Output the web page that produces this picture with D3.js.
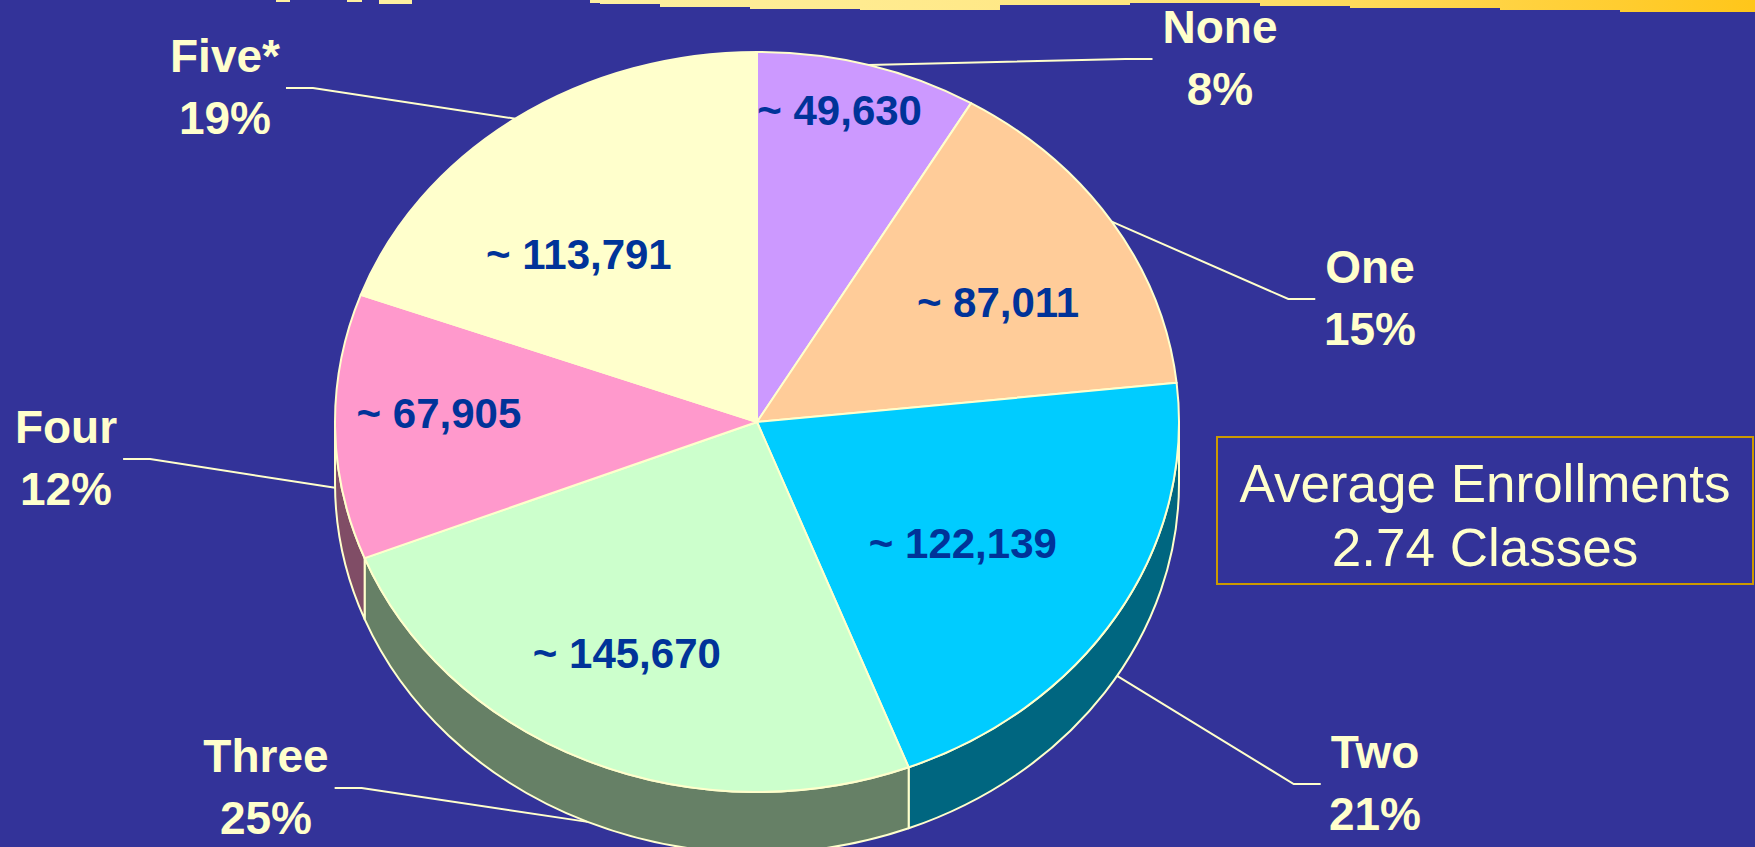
<!DOCTYPE html>
<html>
<head>
<meta charset="utf-8">
<script src="https://cdn.jsdelivr.net/npm/d3@7/dist/d3.min.js"></script>
<style>
html, body { margin: 0; padding: 0; background: #333399; overflow: hidden; }
svg { display: block; font-family: "Liberation Sans", Arial, sans-serif; }
</style>
</head>
<body>
<svg id="chart" width="1755" height="847"></svg>
<script>
// chart values
const categories = ["None", "One", "Two", "Three", "Four", "Five*"];
const enrollments = [49630, 87011, 122139, 145670, 67905, 113791];
const percentLabels = ["8%", "15%", "21%", "25%", "12%", "19%"];
const valueLabels = ["~ 49,630", "~ 87,011", "~ 122,139", "~ 145,670", "~ 67,905", "~ 113,791"];
const faceColors = ["#CC99FF", "#FFCC99", "#00CCFF", "#CCFFCC", "#FF99CC", "#FFFFCC"];
const summaryLines = ["Average Enrollments", "2.74 Classes"];

// layout
const W = 1755, H = 847;
const cx = 757, cy = 422, rx = 422, ry = 370, depth = 61;
const outline = "#FFFFCC";
// value label: [angle in degrees, fraction of radius]
const valueLabelPos = [[13.1, 0.864], [60.4, 0.657], [123.8, 0.587], [206.3, 0.696], [271.7, 0.754], [317.1, 0.62]];
// callout text: [centre x, first baseline]
const calloutPos = [[1220, 43], [1370, 283], [1375, 768], [266, 772], [66, 443], [225, 72]];

const svg = d3.select("#chart");
svg.append("rect").attr("width", W).attr("height", H).attr("fill", "#333399");

// ragged yellow strip at the top of the slide
const defs = svg.append("defs");
const grad = defs.append("linearGradient").attr("id", "topStrip")
    .attr("x1", 0).attr("x2", 1).attr("y1", 0).attr("y2", 0);
grad.append("stop").attr("offset", "0%").attr("stop-color", "#FFF0A0");
grad.append("stop").attr("offset", "45%").attr("stop-color", "#FFE680");
grad.append("stop").attr("offset", "100%").attr("stop-color", "#FFC61A");
const stripEdge = [[600, 0], [600, 4], [660, 4], [660, 7], [750, 7], [750, 9], [860, 9], [860, 10], [1000, 10],
    [1000, 5], [1130, 5], [1130, 3], [1260, 3], [1260, 6], [1350, 6], [1350, 8], [1500, 8], [1500, 10],
    [1620, 10], [1620, 12], [1755, 12], [1755, 0]];
svg.append("path").attr("d", d3.line()(stripEdge) + "Z").attr("fill", "url(#topStrip)");
[[276, 290, 2], [347, 362, 2], [379, 412, 4], [590, 600, 3]].forEach(b => {
    svg.append("rect").attr("x", b[0]).attr("y", 0).attr("width", b[1] - b[0]).attr("height", b[2])
        .attr("fill", "#FFF0A0");
});

const pie = d3.pie().sort(null).value(d => d);
const arcs = pie(enrollments);

const pt = (a, r = 1, dz = 0) => [cx + rx * r * Math.sin(a), cy - ry * r * Math.cos(a) + dz];
const half = c => { const k = d3.rgb(c); return d3.rgb(k.r / 2, k.g / 2, k.b / 2).formatHex(); };

// side walls for the front half of the disc
const sides = svg.append("g");
arcs.forEach((d, i) => {
    const a0 = Math.max(d.startAngle, Math.PI / 2);
    const a1 = Math.min(d.endAngle, Math.PI * 1.5);
    if (a0 >= a1) return;
    const p0 = pt(a0), p1 = pt(a1), q1 = pt(a1, 1, depth), q0 = pt(a0, 1, depth);
    const dPath = `M${p0}A${rx},${ry} 0 0 1 ${p1}L${q1}A${rx},${ry} 0 0 0 ${q0}Z`;
    sides.append("path").attr("d", dPath)
        .attr("fill", half(faceColors[i]))
        .attr("stroke", outline).attr("stroke-width", 2).attr("stroke-linejoin", "round");
});

// top faces, elliptical by scaling a circular arc
const arcGen = d3.arc().innerRadius(0).outerRadius(rx);
svg.append("g")
    .attr("transform", `translate(${cx},${cy}) scale(1,${ry / rx})`)
    .selectAll("path")
    .data(arcs)
    .join("path")
    .attr("d", arcGen)
    .attr("fill", (d, i) => faceColors[i])
    .attr("stroke", outline)
    .attr("stroke-width", 2)
    .attr("stroke-linejoin", "round")
    .attr("vector-effect", "non-scaling-stroke");

// value labels inside slices
svg.append("g").selectAll("text")
    .data(arcs)
    .join("text")
    .attr("x", (d, i) => pt(valueLabelPos[i][0] * Math.PI / 180, valueLabelPos[i][1])[0])
    .attr("y", (d, i) => pt(valueLabelPos[i][0] * Math.PI / 180, valueLabelPos[i][1])[1])
    .attr("dy", "0.35em")
    .attr("text-anchor", "middle")
    .attr("font-size", 42)
    .attr("font-weight", "bold")
    .attr("fill", "#003399")
    .text((d, i) => valueLabels[i]);

// callouts with leader lines
const callouts = svg.append("g");
arcs.forEach((d, i) => {
    const [lx, ly] = calloutPos[i];
    const t1 = callouts.append("text").attr("x", lx).attr("y", ly)
        .attr("text-anchor", "middle").attr("font-size", 46).attr("font-weight", "bold")
        .attr("fill", outline).text(categories[i]);
    callouts.append("text").attr("x", lx).attr("y", ly + 62)
        .attr("text-anchor", "middle").attr("font-size", 46).attr("font-weight", "bold")
        .attr("fill", outline).text(percentLabels[i]);
    const hw = t1.node().getComputedTextLength() / 2;
    const left = lx < cx;
    const sx = left ? lx + hw + 6 : lx - hw - 10;
    const sy = ly + 16;
    const ex = left ? sx + 27 : sx - 27;
    const mid = (d.startAngle + d.endAngle) / 2;
    const anchor = pt(mid, 1, Math.cos(mid) < 0 ? depth : 0);
    callouts.append("path")
        .attr("d", d3.line()([[sx, sy], [ex, sy], anchor]))
        .attr("fill", "none").attr("stroke", outline).attr("stroke-width", 2);
});

// summary box
const box = svg.append("g");
box.append("rect").attr("x", 1217).attr("y", 437).attr("width", 536).attr("height", 147)
    .attr("fill", "none").attr("stroke", "#CC9900").attr("stroke-width", 2);
box.selectAll("text").data(summaryLines).join("text")
    .attr("x", 1485).attr("y", (d, i) => 502 + i * 64)
    .attr("text-anchor", "middle").attr("font-size", 53)
    .attr("fill", outline).text(d => d);
</script>
</body>
</html>
